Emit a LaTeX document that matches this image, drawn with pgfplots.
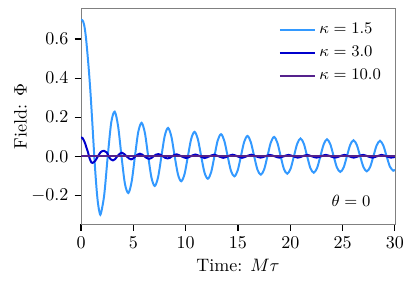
\documentclass[border=0pt]{standalone}
\usepackage{pgfplots}
\pgfplotsset{compat=1.18}
\definecolor{lblue}{HTML}{3399FF}
\definecolor{dblue}{HTML}{0000CD}
\definecolor{purp}{HTML}{55218C}
\begin{document}
\begin{tikzpicture}
\begin{axis}[
  scale only axis, width=174.4pt, height=120pt,
  xmin=0, xmax=30, ymin=-0.348, ymax=0.757,
  xtick={0,5,...,30}, ytick={-0.2,0,0.2,0.4,0.6},
  yticklabel style={/pgf/number format/.cd, fixed, fixed zerofill, precision=1},
  tick align=outside, tick pos=left, major tick length=3.5pt,
  axis line style={gray},
  tick style={black, line width=0.6pt},
  xlabel={Time: $M\tau$}, ylabel={Field: $\Phi$},
  ylabel shift=-4.4pt, xlabel shift=-1pt,
  legend style={draw=none, fill=none, at={(rel axis cs:0.985,0.965)}, anchor=north east,
    font=\fontsize{9.3}{11}\selectfont, row sep=1.5pt},
  legend cell align=left,
  legend image code/.code={\draw[#1] (0pt,0pt) -- (19.4pt,0pt);},
  every axis plot/.append style={line width=1.1pt},
]
\addplot[lblue, smooth] coordinates {
(0,0.700) (0.15,0.695) (0.3,0.672) (0.45,0.618) (0.6,0.535) (0.75,0.440) (0.9,0.330) (1.05,0.200) (1.17,0.090) (1.27,0.000) (1.38,-0.090) (1.5,-0.175) (1.62,-0.240) (1.75,-0.282) (1.89,-0.295)
(2.22,-0.197) (2.555,0.000) (2.89,0.173) (3.22,0.228)
(3.545,0.154) (3.87,0.000) (4.195,-0.140) (4.52,-0.188)
(4.84,-0.130) (5.155,0.000) (5.47,0.124) (5.79,0.171)
(6.11,0.118) (6.42,0) (6.74,-0.111) (7.05,-0.152)
(7.37,-0.106) (7.685,0) (8.00,0.104) (8.32,0.145)
(8.64,0.0995) (8.95,0) (9.27,-0.0935) (9.58,-0.128)
(9.90,-0.090) (10.215,0) (10.53,0.0889) (10.85,0.125)
(11.17,0.0866) (11.485,0) (11.80,-0.0831) (12.12,-0.115)
(12.44,-0.081) (12.75,0) (13.06,0.0802) (13.38,0.113)
(13.70,0.0781) (14.015,0) (14.33,-0.0746) (14.65,-0.103)
(14.97,-0.073) (15.28,0) (15.59,0.0734) (15.91,0.104)
(16.23,0.0718) (16.545,0) (16.86,-0.0682) (17.18,-0.094)
(17.50,-0.0673) (17.815,0) (18.13,0.0691) (18.45,0.099)
(18.77,0.0682) (19.08,0) (19.39,-0.0647) (19.71,-0.089)
(20.03,-0.0633) (20.345,0) (20.66,0.064) (20.98,0.091)
(21.30,0.0631) (21.61,0) (21.92,-0.0606) (22.24,-0.084)
(22.56,-0.0599) (22.875,0) (23.19,0.061) (23.51,0.087)
(23.83,0.0603) (24.145,0) (24.46,-0.0578) (24.78,-0.080)
(25.10,-0.0569) (25.41,0) (25.72,0.0576) (26.04,0.082)
(26.36,0.0571) (26.675,0) (26.99,-0.0553) (27.31,-0.077)
(27.63,-0.0548) (27.94,0) (28.25,0.0555) (28.57,0.079)
(28.89,0.055) (29.205,0) (29.52,-0.0532) (29.84,-0.074) (30,-0.068)
};
\addlegendentry{$\kappa = 1.5$}
\addplot[dblue, smooth] coordinates {
(0,0.097) (0.15,0.093) (0.35,0.072) (0.5,0.048) (0.67,0.020) (0.83,-0.012) (1.0,-0.032) (1.1,-0.034) (1.35,-0.024) (1.62,0.000) (1.9,0.022) (2.2,0.028) (2.45,0.020) (2.65,0.000) (2.85,-0.016) (3.05,-0.021) (3.25,-0.015) (3.47,0.000) (3.7,0.013) (3.9,0.018) (4.12,0.012) (4.35,0.000) (4.58,-0.011) (4.8,-0.016) (5.0,-0.011) (5.21,0.000) (5.42,0.009) (5.62,0.013) (5.84,0.009) (6.06,0.000) (6.28,-0.009) (6.5,-0.013) (6.72,-0.009) (6.94,0.000) (7.16,0.008) (7.38,0.011) (7.6,0.008) (7.82,0.000) (8.05,-0.008) (8.27,-0.011) (8.49,-0.008) (8.71,0.000) (8.93,0.007) (9.15,0.010)
(9.595,0) (10.04,-0.009) (10.485,0) (10.93,0.009) (11.375,0) (11.82,-0.009) (12.265,0) (12.71,0.008) (13.155,0) (13.6,-0.008) (14.045,0) (14.49,0.008) (14.935,0) (15.38,-0.008) (15.825,0) (16.27,0.008) (16.715,0) (17.16,-0.007) (17.605,0) (18.05,0.007) (18.495,0) (18.94,-0.007) (19.385,0) (19.83,0.007) (20.275,0) (20.72,-0.007) (21.165,0) (21.61,0.007) (22.055,0) (22.5,-0.007) (22.945,0) (23.39,0.007) (23.835,0) (24.28,-0.007) (24.725,0) (25.17,0.007) (25.615,0) (26.06,-0.007) (26.505,0) (26.95,0.007) (27.395,0) (27.84,-0.007) (28.285,0) (28.73,0.007) (29.175,0) (29.62,-0.007) (30,-0.003)
};
\addlegendentry{$\kappa = 3.0$}
\addplot[purp] coordinates {(0,0) (10,0) (20,0) (30,0)};
\addlegendentry{$\kappa = 10.0$}
\node[font=\fontsize{9.3}{11}\selectfont] at (axis cs:25.8,-0.226) {$\theta = 0$};
\coordinate (bl) at (rel axis cs:0,0);
\coordinate (tr) at (rel axis cs:1,1);
\end{axis}
\pgfresetboundingbox
\path[use as bounding box] ([xshift=-45pt,yshift=-31.1pt]bl) rectangle ([xshift=6.7pt,yshift=4.6pt]tr);
\end{tikzpicture}
\end{document}
